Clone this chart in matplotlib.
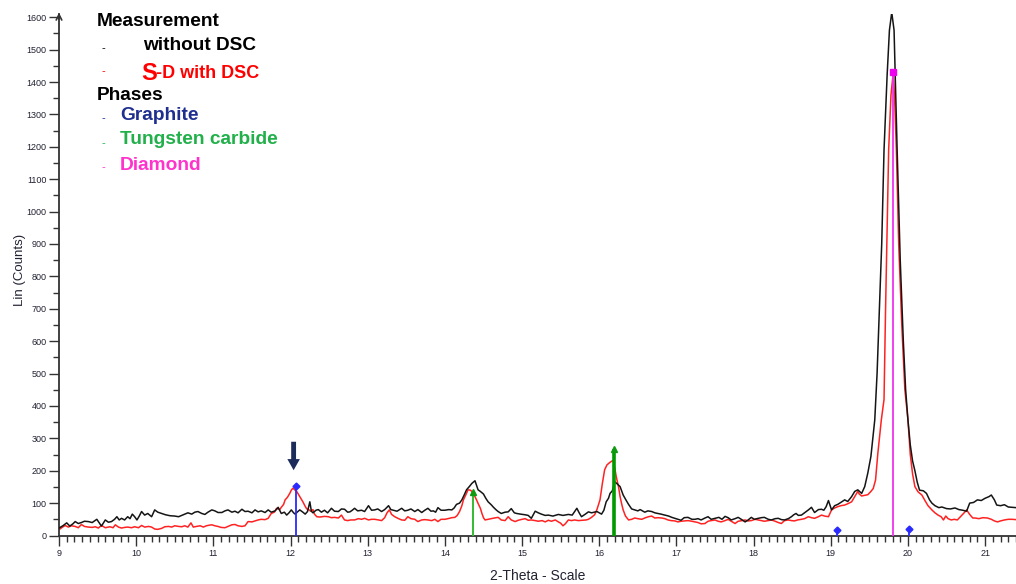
import numpy as np
import matplotlib
matplotlib.use("Agg")
import matplotlib.pyplot as plt
from matplotlib.ticker import MultipleLocator

plt.rcParams['font.family'] = ['Liberation Sans', 'DejaVu Sans']

# scan without DSC (black)
tt_plain = [9.00, 9.05, 9.10, 9.14, 9.18, 9.21, 9.25, 9.29, 9.33, 9.38, 9.43, 9.49, 9.55, 9.60, 9.64,
            9.68, 9.72, 9.75, 9.78, 9.81, 9.85, 9.89, 9.92, 9.95, 9.98, 10.01, 10.04, 10.07, 10.11, 10.15,
            10.20, 10.24, 10.28, 10.33, 10.38, 10.44, 10.50, 10.55, 10.60, 10.67, 10.72, 10.76, 10.80, 10.85,
            10.89, 10.93, 10.98, 11.02, 11.06, 11.11, 11.15, 11.19, 11.24, 11.28, 11.32, 11.37, 11.41, 11.45,
            11.50, 11.54, 11.58, 11.62, 11.67, 11.71, 11.75, 11.80, 11.84, 11.88, 11.92, 11.95, 11.98, 12.01,
            12.04, 12.06, 12.09, 12.12, 12.16, 12.19, 12.22, 12.25, 12.27, 12.29, 12.33, 12.36, 12.40, 12.44,
            12.48, 12.53, 12.57, 12.62, 12.66, 12.70, 12.74, 12.77, 12.80, 12.83, 12.87, 12.92, 12.96, 13.01,
            13.05, 13.09, 13.13, 13.18, 13.22, 13.27, 13.30, 13.33, 13.38, 13.44, 13.48, 13.52, 13.56, 13.61,
            13.65, 13.70, 13.74, 13.78, 13.82, 13.85, 13.88, 13.91, 13.95, 14.00, 14.05, 14.09, 14.12, 14.15,
            14.19, 14.22, 14.25, 14.28, 14.32, 14.35, 14.39, 14.43, 14.46, 14.50, 14.53, 14.56, 14.60, 14.63,
            14.66, 14.69, 14.73, 14.78, 14.82, 14.86, 14.90, 14.93, 14.98, 15.04, 15.08, 15.12, 15.17, 15.21,
            15.25, 15.30, 15.34, 15.40, 15.47, 15.53, 15.60, 15.65, 15.71, 15.74, 15.77, 15.82, 15.86, 15.90,
            15.97, 16.03, 16.06, 16.09, 16.12, 16.14, 16.17, 16.20, 16.23, 16.27, 16.31, 16.35, 16.38, 16.42,
            16.46, 16.50, 16.53, 16.59, 16.63, 16.68, 16.72, 16.76, 16.80, 16.85, 16.90, 16.94, 16.98, 17.02,
            17.06, 17.10, 17.15, 17.20, 17.24, 17.28, 17.32, 17.37, 17.41, 17.45, 17.50, 17.55, 17.59, 17.63,
            17.67, 17.71, 17.76, 17.80, 17.84, 17.89, 17.93, 17.97, 18.01, 18.06, 18.10, 18.14, 18.19, 18.23,
            18.28, 18.32, 18.36, 18.40, 18.45, 18.49, 18.52, 18.55, 18.58, 18.62, 18.66, 18.71, 18.75, 18.79,
            18.84, 18.88, 18.91, 18.94, 18.97, 19.01, 19.05, 19.09, 19.13, 19.18, 19.22, 19.27, 19.31, 19.35,
            19.40, 19.44, 19.48, 19.52, 19.57, 19.60, 19.63, 19.66, 19.69, 19.73, 19.76, 19.79, 19.82, 19.86,
            19.90, 19.94, 19.97, 20.00, 20.03, 20.06, 20.09, 20.12, 20.15, 20.20, 20.24, 20.28, 20.31, 20.35,
            20.40, 20.44, 20.50, 20.55, 20.61, 20.66, 20.71, 20.76, 20.80, 20.85, 20.90, 20.95, 21.00, 21.05,
            21.08, 21.12, 21.15, 21.20, 21.25, 21.30, 21.35, 21.40]
cnt_plain = [23, 30, 39, 29, 36, 43, 37, 40, 44, 43, 40, 50, 29, 48, 41,
             43, 50, 58, 48, 53, 48, 58, 52, 66, 58, 48, 60, 74, 63, 68,
             58, 79, 72, 68, 64, 61, 60, 58, 63, 70, 66, 72, 74, 68,
             65, 72, 79, 76, 71, 71, 76, 79, 72, 75, 70, 81, 74, 75,
             70, 79, 73, 76, 71, 79, 72, 76, 87, 68, 72, 63, 70, 79,
             70, 66, 73, 79, 72, 66, 74, 104, 75, 70, 78, 80, 72, 78,
             70, 84, 75, 74, 82, 81, 72, 73, 78, 84, 76, 78, 74, 92,
             78, 79, 82, 74, 80, 92, 80, 78, 75, 84, 76, 78, 82, 74,
             80, 71, 78, 84, 75, 76, 72, 86, 78, 78, 80, 79, 85, 96,
             100, 110, 125, 141, 152, 161, 169, 141, 136, 128, 115, 104, 95, 87,
             80, 74, 68, 72, 73, 83, 70, 68, 66, 64, 62, 53, 75, 70,
             66, 62, 63, 60, 65, 62, 65, 63, 84, 70, 58, 66, 73, 70,
             74, 66, 78, 104, 115, 130, 138, 166, 160, 151, 125, 108, 96, 82,
             79, 76, 80, 72, 76, 74, 70, 68, 66, 63, 60, 56, 53, 50,
             47, 55, 56, 50, 50, 52, 48, 54, 58, 50, 53, 56, 50, 59,
             55, 48, 52, 56, 50, 42, 48, 56, 50, 53, 55, 56, 50, 48,
             52, 53, 49, 48, 52, 58, 64, 68, 62, 63, 70, 79, 87, 71,
             80, 81, 78, 89, 108, 79, 92, 96, 102, 110, 105, 120, 136, 141,
             130, 151, 193, 244, 357, 500, 700, 900, 1190, 1420, 1560, 1615, 1560, 1190,
             850, 600, 450, 357, 280, 230, 200, 165, 140, 138, 130, 110, 100, 92,
             86, 88, 83, 82, 85, 80, 78, 75, 100, 102, 110, 108, 115, 120,
             125, 110, 94, 92, 95, 88, 87, 86]

# S-D scan with DSC (red)
tt_dsc = [9.00, 9.04, 9.08, 9.12, 9.16, 9.21, 9.25, 9.29, 9.33, 9.38, 9.43, 9.47, 9.51, 9.55, 9.60,
          9.66, 9.70, 9.73, 9.77, 9.81, 9.85, 9.89, 9.94, 9.98, 10.03, 10.07, 10.11, 10.16, 10.20, 10.24,
          10.28, 10.33, 10.37, 10.42, 10.46, 10.50, 10.55, 10.59, 10.63, 10.67, 10.71, 10.74, 10.78, 10.83,
          10.87, 10.91, 10.95, 10.98, 11.02, 11.06, 11.10, 11.15, 11.19, 11.24, 11.28, 11.32, 11.37, 11.41,
          11.45, 11.50, 11.54, 11.58, 11.62, 11.67, 11.71, 11.75, 11.79, 11.82, 11.86, 11.88, 11.91, 11.93,
          11.96, 11.99, 12.01, 12.03, 12.06, 12.08, 12.10, 12.12, 12.14, 12.16, 12.19, 12.21, 12.23, 12.26,
          12.29, 12.31, 12.34, 12.38, 12.44, 12.49, 12.53, 12.57, 12.62, 12.66, 12.68, 12.70, 12.74, 12.78,
          12.83, 12.88, 12.92, 12.96, 13.01, 13.05, 13.09, 13.14, 13.18, 13.22, 13.25, 13.28, 13.31, 13.35,
          13.40, 13.44, 13.48, 13.52, 13.56, 13.61, 13.65, 13.70, 13.74, 13.78, 13.83, 13.87, 13.91, 13.95,
          14.00, 14.04, 14.09, 14.13, 14.16, 14.19, 14.22, 14.24, 14.27, 14.30, 14.33, 14.35, 14.39, 14.41,
          14.43, 14.46, 14.48, 14.50, 14.52, 14.56, 14.60, 14.64, 14.69, 14.73, 14.78, 14.82, 14.86, 14.91,
          14.95, 15.00, 15.04, 15.08, 15.12, 15.17, 15.21, 15.26, 15.30, 15.34, 15.38, 15.43, 15.47, 15.50,
          15.53, 15.56, 15.60, 15.64, 15.68, 15.73, 15.78, 15.83, 15.86, 15.90, 15.94, 15.97, 16.01, 16.04,
          16.07, 16.10, 16.14, 16.18, 16.20, 16.22, 16.25, 16.27, 16.29, 16.31, 16.34, 16.38, 16.42, 16.46,
          16.50, 16.55, 16.60, 16.64, 16.68, 16.72, 16.76, 16.81, 16.85, 16.89, 16.93, 16.98, 17.02, 17.06,
          17.10, 17.15, 17.20, 17.24, 17.28, 17.32, 17.37, 17.41, 17.45, 17.50, 17.54, 17.58, 17.63, 17.67,
          17.71, 17.76, 17.80, 17.85, 17.89, 17.93, 17.97, 18.02, 18.06, 18.10, 18.14, 18.19, 18.23, 18.28,
          18.32, 18.36, 18.40, 18.45, 18.49, 18.53, 18.57, 18.62, 18.66, 18.71, 18.75, 18.79, 18.84, 18.88,
          18.92, 18.97, 19.01, 19.05, 19.09, 19.13, 19.18, 19.22, 19.27, 19.31, 19.35, 19.37, 19.40, 19.44,
          19.48, 19.52, 19.55, 19.58, 19.61, 19.655, 19.69, 19.71, 19.73, 19.75, 19.78, 19.81, 19.83, 19.85,
          19.88, 19.92, 19.96, 20.00, 20.03, 20.06, 20.09, 20.13, 20.18, 20.22, 20.26, 20.31, 20.35, 20.39,
          20.43, 20.46, 20.49, 20.52, 20.56, 20.60, 20.64, 20.68, 20.72, 20.76, 20.80, 20.84, 20.87, 20.92,
          20.97, 21.03, 21.08, 21.12, 21.16, 21.20, 21.25, 21.30, 21.35, 21.40]
cnt_dsc = [18, 25, 31, 26, 30, 28, 24, 34, 28, 26, 25, 27, 23, 31, 24,
           27, 24, 33, 26, 23, 25, 26, 24, 27, 24, 31, 26, 28, 26, 20,
           19, 22, 27, 28, 26, 30, 28, 27, 30, 26, 39, 26, 28, 30,
           26, 30, 32, 33, 30, 28, 25, 24, 28, 33, 34, 30, 28, 30,
           43, 42, 45, 48, 50, 49, 53, 68, 72, 84, 80, 87, 96, 110,
           118, 130, 140, 146, 140, 136, 128, 120, 112, 104, 90, 82, 81, 75,
           80, 66, 58, 57, 59, 58, 55, 56, 54, 63, 55, 48, 46, 48,
           48, 52, 50, 53, 48, 50, 50, 48, 46, 55, 70, 79, 65, 58,
           52, 48, 47, 58, 52, 50, 43, 48, 49, 48, 46, 50, 43, 50,
           50, 52, 55, 56, 62, 74, 92, 110, 125, 141, 140, 136, 120, 110,
           99, 84, 68, 55, 48, 50, 52, 54, 56, 48, 46, 58, 48, 43,
           47, 50, 52, 47, 48, 46, 44, 46, 42, 47, 44, 48, 42, 38,
           30, 36, 48, 46, 48, 46, 47, 48, 50, 56, 64, 80, 110, 160,
           203, 218, 226, 232, 210, 182, 150, 120, 98, 79, 60, 48, 50, 54,
           52, 50, 55, 58, 60, 54, 55, 54, 52, 48, 46, 45, 42, 44,
           45, 46, 44, 42, 40, 36, 37, 44, 46, 48, 44, 42, 46, 50,
           44, 37, 44, 46, 48, 45, 46, 50, 48, 46, 44, 46, 48, 44,
           40, 37, 46, 48, 46, 45, 48, 50, 52, 58, 55, 53, 58, 63,
           60, 58, 79, 85, 89, 92, 94, 98, 104, 120, 136, 128, 122, 124,
           126, 136, 145, 171, 254, 357, 420, 700, 950, 1190, 1360, 1430, 1330, 1190,
           900, 650, 450, 357, 250, 190, 151, 135, 125, 108, 92, 79, 70, 63,
           58, 48, 60, 52, 48, 50, 48, 58, 68, 79, 65, 54, 54, 52,
           55, 54, 50, 45, 42, 45, 48, 50, 50, 49]

# reference phase lines (position, intensity)
graphite_pos = [12.065, 19.08, 20.02]
graphite_int = [153, 18, 20]
wc_pos = [14.358, 16.19]
wc_int = [134, 267]
diamond_pos = [19.81]
diamond_int = [1430]

fig = plt.figure(figsize=(10.16, 5.84), dpi=100)
ax = fig.add_axes([59 / 1016, 48.5 / 584, 957 / 1016, 521.5 / 584])

ax.plot(tt_plain, cnt_plain, color='#151515', lw=1.1, zorder=3)
ax.plot(tt_dsc, cnt_dsc, color='#ff2222', lw=1.1, zorder=2)

# graphite
ax.vlines(graphite_pos, 0, graphite_int, color='#2a2aff', lw=1.3, zorder=4)
ax.plot(graphite_pos, graphite_int, 'D', color='#2a2aff', ms=3.5, zorder=5, clip_on=False)
# tungsten carbide
ax.vlines(wc_pos[0], 0, wc_int[0], color='#33bb33', lw=1.4, zorder=4)
ax.vlines(wc_pos[1], 0, wc_int[1], color='#009900', lw=2.6, zorder=4)
ax.plot(wc_pos, wc_int, '^', color='#119911', ms=4, zorder=5)
# diamond
ax.vlines(diamond_pos, 0, diamond_int, color='#ee33ee', lw=1.3, zorder=4)
ax.plot(diamond_pos, diamond_int, 's', color='#ee00ee', ms=4, zorder=5)

# marker arrow over the graphite reflection
ax.annotate('', xy=(12.04, 193), xytext=(12.04, 298),
            arrowprops=dict(arrowstyle='simple,head_width=0.9,head_length=0.8,tail_width=0.35',
                            color='#1c2b5a', lw=0))

ax.set_xlim(9, 21.40)
ax.set_ylim(0, 1610)
ax.xaxis.set_major_locator(MultipleLocator(1))
ax.xaxis.set_minor_locator(MultipleLocator(0.1))
ax.yaxis.set_major_locator(MultipleLocator(100))
ax.yaxis.set_minor_locator(MultipleLocator(50))

for s in ['top', 'right']:
    ax.spines[s].set_visible(False)
for s in ['left', 'bottom']:
    ax.spines[s].set_color('#333333')
    ax.spines[s].set_linewidth(1.3)

ax.tick_params(which='major', length=7, width=1, color='#333333', labelsize=6.5,
               labelcolor='#222233')
ax.tick_params(which='minor', length=4.5, width=1, color='#333333')
ax.tick_params(axis='x', which='major', pad=3)
ax.tick_params(axis='y', which='major', pad=2)

# arrowhead on top of the y axis
ax.annotate('', xy=(0, 1.008), xytext=(0, 0.985), xycoords='axes fraction',
            arrowprops=dict(arrowstyle='->', color='#333333', lw=1.2))

ax.set_xlabel('2-Theta - Scale', fontsize=10, color='#222233')
ax.xaxis.set_label_coords(0.5, -0.065)
ax.set_ylabel('Lin (Counts)', fontsize=9.5, color='#222233')
ax.yaxis.set_label_coords(-0.035, 0.51)

# legend block
def ftext(px, py, s, **kw):
    fig.text(px / 1016, 1 - py / 584, s, va='center', ha='left', **kw)

ftext(97, 22, 'Measurement', fontsize=13.8, fontweight='bold', color='black')
ftext(101, 48, '-', fontsize=8, color='black')
ftext(143, 46, 'without DSC', fontsize=13.7, fontweight='bold', color='black')
ftext(101, 71, '-', fontsize=8, color='red')
ftext(141, 73, 'S', fontsize=17, fontweight='bold', color='red')
ftext(156, 74, '-D with DSC', fontsize=13, fontweight='bold', color='red')
ftext(97, 96, 'Phases', fontsize=13.8, fontweight='bold', color='black')
ftext(101, 118, '-', fontsize=8, color='#1f2f8f')
ftext(120, 116, 'Graphite', fontsize=13.8, fontweight='bold', color='#1f2f8f')
ftext(101, 143, '-', fontsize=8, color='#22b04b')
ftext(120, 140, 'Tungsten carbide', fontsize=13.8, fontweight='bold', color='#22b04b')
ftext(101, 167, '-', fontsize=8, color='#ff33cc')
ftext(120, 166, 'Diamond', fontsize=13.8, fontweight='bold', color='#ff33cc')

fig.savefig('out.png', dpi=100)
